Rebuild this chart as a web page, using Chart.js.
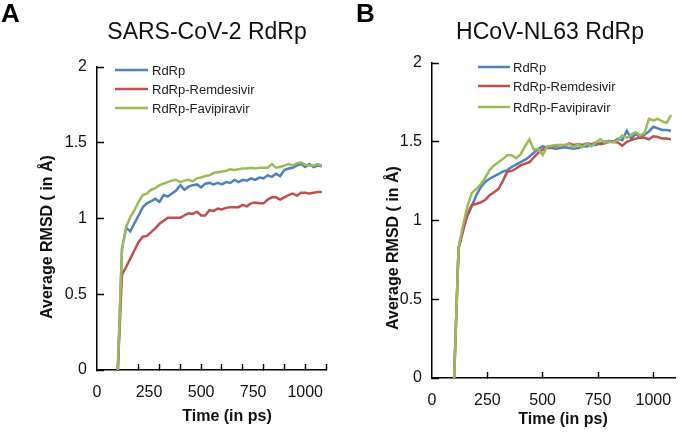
<!DOCTYPE html>
<html>
<head>
<meta charset="utf-8">
<title>RdRp RMSD</title>
<script src="https://cdn.jsdelivr.net/npm/chart.js@4.4.1/dist/chart.umd.min.js"></script>
<style>
    body { margin: 0; background: #fff; }
    #wrap { position: relative; width: 685px; height: 432px; overflow: hidden; }
    .panel { position: absolute; top: 0; }
</style>
</head>
<body>
<div id="wrap">
    <div class="panel" style="left:0"><canvas id="chart-a" width="340" height="432"></canvas></div>
    <div class="panel" style="left:340px"><canvas id="chart-b" width="345" height="432"></canvas></div>
</div>
<script>
// === Data ===

const seriesNames = ['RdRp', 'RdRp-Remdesivir', 'RdRp-Favipiravir'];

const timePs = [100, 120, 140, 160, 180, 200, 220, 240, 260, 280,
    300, 320, 340, 360, 380, 400, 420, 440, 460, 480,
    500, 520, 540, 560, 580, 600, 620, 640, 660, 680,
    700, 720, 740, 760, 780, 800, 820, 840, 860, 880,
    900, 920, 940, 960, 980, 1000, 1020, 1040, 1060, 1080];

// SARS-CoV-2 RdRp (panel A)
const sarsRdRp = [0, 0.80, 0.94, 0.915, 0.97, 1.02, 1.075, 1.10, 1.115, 1.13,
    1.11, 1.155, 1.145, 1.165, 1.185, 1.22, 1.19, 1.21, 1.22, 1.225,
    1.205, 1.23, 1.235, 1.225, 1.235, 1.225, 1.24, 1.235, 1.255, 1.24,
    1.255, 1.25, 1.265, 1.255, 1.27, 1.265, 1.285, 1.275, 1.295, 1.28,
    1.32, 1.33, 1.335, 1.35, 1.36, 1.34, 1.36, 1.34, 1.35, 1.345];
const sarsRemdesivir = [0, 0.63, 0.68, 0.735, 0.79, 0.845, 0.88, 0.885, 0.91, 0.935,
    0.965, 0.985, 1.005, 1.005, 1.005, 1.005, 1.02, 1.035, 1.03, 1.045,
    1.02, 1.02, 1.055, 1.05, 1.065, 1.06, 1.07, 1.075, 1.075, 1.075,
    1.09, 1.08, 1.10, 1.105, 1.10, 1.10, 1.125, 1.14, 1.14, 1.125,
    1.14, 1.155, 1.165, 1.15, 1.17, 1.17, 1.165, 1.17, 1.175, 1.175];
const sarsFavipiravir = [0, 0.80, 0.945, 1.01, 1.055, 1.11, 1.155, 1.165, 1.19, 1.20,
    1.22, 1.23, 1.24, 1.25, 1.255, 1.24, 1.25, 1.255, 1.245, 1.265,
    1.27, 1.28, 1.285, 1.30, 1.305, 1.31, 1.315, 1.325, 1.32, 1.325,
    1.33, 1.33, 1.335, 1.33, 1.335, 1.335, 1.335, 1.36, 1.335, 1.34,
    1.35, 1.36, 1.35, 1.365, 1.37, 1.355, 1.35, 1.35, 1.36, 1.35];

// HCoV-NL63 RdRp (panel B)
const nlRdRp = [0, 0.83, 0.95, 1.03, 1.09, 1.16, 1.21, 1.245, 1.265, 1.28,
    1.295, 1.31, 1.32, 1.34, 1.355, 1.37, 1.385, 1.405, 1.43, 1.455,
    1.47, 1.46, 1.46, 1.455, 1.46, 1.465, 1.46, 1.455, 1.46, 1.47,
    1.47, 1.48, 1.48, 1.49, 1.50, 1.505, 1.50, 1.52, 1.51, 1.57,
    1.52, 1.55, 1.53, 1.545, 1.565, 1.595, 1.585, 1.575, 1.575, 1.57];
const nlRemdesivir = [0, 0.82, 0.93, 1.04, 1.10, 1.105, 1.115, 1.13, 1.16, 1.18,
    1.20, 1.25, 1.31, 1.315, 1.33, 1.35, 1.36, 1.37, 1.40, 1.43,
    1.45, 1.465, 1.47, 1.475, 1.48, 1.475, 1.49, 1.48, 1.485, 1.48,
    1.49, 1.485, 1.495, 1.485, 1.49, 1.50, 1.50, 1.495, 1.475, 1.50,
    1.51, 1.52, 1.525, 1.525, 1.515, 1.535, 1.53, 1.52, 1.52, 1.515];
const nlFavipiravir = [0, 0.82, 0.97, 1.09, 1.175, 1.20, 1.23, 1.27, 1.32, 1.35,
    1.37, 1.39, 1.415, 1.415, 1.395, 1.42, 1.47, 1.515, 1.45, 1.455,
    1.415, 1.47, 1.475, 1.48, 1.48, 1.48, 1.485, 1.465, 1.485, 1.465,
    1.49, 1.47, 1.495, 1.515, 1.495, 1.50, 1.495, 1.51, 1.54, 1.525,
    1.545, 1.56, 1.54, 1.555, 1.645, 1.635, 1.645, 1.63, 1.62, 1.67];

// Axis ticks
const xLabelTicks = [0, 250, 500, 750, 1000];
const yTicks = [0, 0.5, 1, 1.5, 2];
const xMarksA = [100, 200, 300, 400, 500, 600, 700, 800, 900, 1000, 1100];
const xMarksB = [250, 500, 750, 1000];

const seriesColors = ['#4F81BD', '#C0504D', '#9BBB59'];
const FONT = "'Liberation Sans', Arial, sans-serif";

Chart.defaults.font.family = FONT;
Chart.defaults.color = '#111';

// === Decorations: titles and legend ===

const panelDecor = {
    id: 'panelDecor',
    afterDraw(chart) {
        const ctx = chart.ctx;
        const info = chart.config.options.panelInfo;

        ctx.save();
        // panel letter and title
        ctx.fillStyle = '#000';
        ctx.textBaseline = 'middle';
        ctx.textAlign = 'left';
        ctx.font = 'bold 26px ' + FONT;
        ctx.fillText(info.letter, info.letterX, 15);

        ctx.textAlign = 'center';
        ctx.font = '23px ' + FONT;
        ctx.fillStyle = '#111';
        ctx.fillText(info.title, info.titleX, 33);

        // axis titles
        ctx.font = 'bold 16px ' + FONT;
        ctx.fillText('Time (in ps)', info.xTitleX, info.xTitleY);
        ctx.save();
        ctx.translate(info.yTitleX, info.yTitleY);
        ctx.rotate(-Math.PI / 2);
        ctx.fillText('Average RMSD ( in \u00C5)', 0, 0);
        ctx.restore();

        // legend
        ctx.font = '13px ' + FONT;
        ctx.textAlign = 'left';
        chart.data.datasets.forEach((ds, i) => {
            const y = info.legendY[i];
            ctx.strokeStyle = ds.borderColor;
            ctx.lineWidth = 2.5;
            ctx.beginPath();
            ctx.moveTo(info.legendX[0], y);
            ctx.lineTo(info.legendX[1], y);
            ctx.stroke();
            ctx.fillStyle = '#222';
            ctx.fillText(ds.label, info.legendX[2], y + 1);
        });
        ctx.restore();
    }
};

// === Chart builder ===

function makePanel(canvasId, values, layout, info) {
    const ctx = document.getElementById(canvasId).getContext('2d');
    const datasets = values.map((vals, i) => ({
        label: seriesNames[i],
        data: timePs.map((t, k) => ({ x: t, y: vals[k] })),
        borderColor: seriesColors[i],
        borderWidth: 2.5,
        pointRadius: 0,
        tension: 0,
        fill: false,
        order: 3 - i
    }));

    // inward tick marks come from the grid with a negative tick length
    const inwardTicks = len => ({
        display: true,
        drawOnChartArea: false,
        drawTicks: true,
        tickLength: -len,
        tickColor: '#000',
        tickWidth: 1.5
    });

    return new Chart(ctx, {
        type: 'line',
        data: { datasets },
        plugins: [panelDecor],
        options: {
            responsive: false,
            animation: false,
            panelInfo: info,
            layout: { padding: { top: layout.top, right: layout.right, left: 0, bottom: 0 } },
            plugins: {
                legend: { display: false },
                tooltip: { enabled: false }
            },
            scales: {
                // axis line + tick marks (no labels)
                x: {
                    type: 'linear',
                    position: 'bottom',
                    weight: 0,
                    min: 0,
                    max: 1100,
                    afterBuildTicks: s => { s.ticks = info.xMarks.map(v => ({ value: v })); },
                    afterFit: s => { s.height = 0; },
                    grid: inwardTicks(6),
                    border: { display: true, color: '#000', width: 1.5 },
                    ticks: { display: false }
                },
                // tick labels
                xl: {
                    type: 'linear',
                    position: 'bottom',
                    weight: 1,
                    min: 0,
                    max: 1100,
                    afterBuildTicks: s => { s.ticks = xLabelTicks.map(v => ({ value: v })); },
                    afterFit: s => { s.height = layout.xHeight; },
                    grid: { display: false, drawTicks: false },
                    border: { display: false },
                    ticks: {
                        padding: 13,
                        maxRotation: 0,
                        autoSkip: false,
                        font: { size: 16 },
                        color: '#111',
                        callback: v => String(v)
                    }
                },
                y: {
                    min: 0,
                    max: 2,
                    afterBuildTicks: s => { s.ticks = yTicks.map(v => ({ value: v })); },
                    afterFit: s => { s.width = layout.yWidth; },
                    grid: inwardTicks(7),
                    border: { display: true, color: '#000', width: 1.5 },
                    ticks: {
                        padding: 17,
                        font: { size: 16 },
                        color: '#111',
                        callback: v => String(v)
                    }
                }
            }
        }
    });
}

makePanel('chart-a', [sarsRdRp, sarsRemdesivir, sarsFavipiravir],
    { top: 67, right: 14, yWidth: 97, xHeight: 62 },
    {
        letter: 'A', letterX: 1, title: 'SARS-CoV-2 RdRp', titleX: 207,
        xTitleX: 227, xTitleY: 417, yTitleX: 48, yTitleY: 237,
        xMarks: xMarksA, legendX: [115, 148, 152], legendY: [70, 89, 108]
    });

makePanel('chart-b', [nlRdRp, nlRemdesivir, nlFavipiravir],
    { top: 63, right: 0, yWidth: 92, xHeight: 54 },
    {
        letter: 'B', letterX: 16, title: 'HCoV-NL63 RdRp', titleX: 210,
        xTitleX: 223, xTitleY: 420, yTitleX: 54, yTitleY: 248,
        xMarks: xMarksB, legendX: [138, 170, 173], legendY: [67, 86, 107]
    });
</script>
</body>
</html>
